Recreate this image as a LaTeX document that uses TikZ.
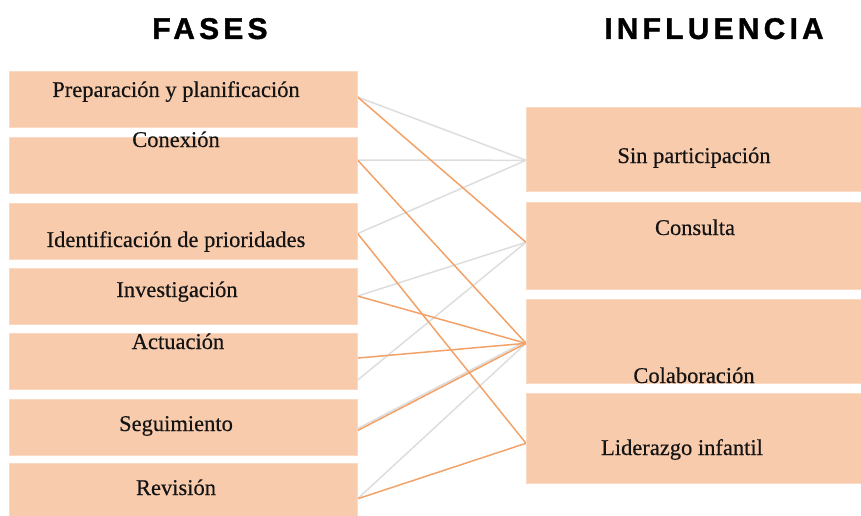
\documentclass[tikz,border=0pt]{standalone}
\usepackage{fontspec}
\setmainfont{Liberation Serif}
\newfontfamily\bodyfont[FakeBold=0.4]{Liberation Serif}
\newfontfamily\titlefont[LetterSpace=14,FakeBold=1.2]{Liberation Sans}
\usetikzlibrary{backgrounds}
\definecolor{boxfill}{HTML}{F8CBAD}
\definecolor{boxedge}{HTML}{FBD9C3}
\definecolor{lineor}{HTML}{F2A268}
\definecolor{linegr}{HTML}{DDDDDD}
\definecolor{txt}{HTML}{141414}
\begin{document}
\begin{tikzpicture}[x=1pt,y=-1pt,
  lbox/.style={fill=boxfill,draw=boxedge,line width=0.6pt,inner sep=0pt,
    minimum width=348pt,minimum height=55.5pt,anchor=north west},
  rbox/.style={fill=boxfill,draw=boxedge,line width=0.6pt,inner sep=0pt,
    minimum width=345pt,anchor=north west},
  lbl/.style={anchor=base,inner sep=0pt,text=txt,font=\bodyfont\fontsize{22.5}{27}\selectfont},
  ttl/.style={anchor=base,inner sep=0pt,text=black,font=\titlefont\bfseries\fontsize{30}{36}\selectfont},
  orl/.style={draw=lineor,line width=1.5pt},
  grl/.style={draw=linegr,line width=1.5pt}]
\useasboundingbox (0,0) rectangle (861,516);

% titles
\node[ttl] (tf) at (210,39) {FASES};
\node[ttl] (ti) at (714,39) {INFLUENCIA};

% left boxes
\node[lbox] (b1) at (9,71) {};
\node[lbox] (b2) at (9,137) {};
\node[lbox] (b3) at (9,203) {};
\node[lbox] (b4) at (9,268) {};
\node[lbox] (b5) at (9,333) {};
\node[lbox] (b6) at (9,399) {};
\node[lbox,minimum height=60pt] (b7) at (9,463) {};

% right boxes
\node[rbox,minimum height=84pt] (rA) at (526,107) {};
\node[rbox,minimum height=87pt] (rB) at (526,202) {};
\node[rbox,minimum height=84pt] (rC) at (526,299) {};
\node[rbox,minimum height=90pt] (rD) at (526,393) {};

% labels
\node[lbl] (t1) at (176,97) {Preparación y planificación};
\node[lbl] (t2) at (176,147) {Conexión};
\node[lbl] (t3) at (176,247) {Identificación de prioridades};
\node[lbl] (t4) at (177,297) {Investigación};
\node[lbl] (t5) at (178,349) {Actuación};
\node[lbl] (t6) at (176,431) {Seguimiento};
\node[lbl] (t7) at (176,495) {Revisión};
\node[lbl] (tA) at (694,163) {Sin participación};
\node[lbl] (tB) at (695,235) {Consulta};
\node[lbl] (tC) at (694,383) {Colaboración};
\node[lbl] (tD) at (682,455) {Liderazgo infantil};

% connectors
\begin{scope}[on background layer]
\draw[grl] ([yshift=2pt]b1.east) -- ([yshift=-11pt]rA.west);
\draw[grl] ([yshift=5pt]b2.east) -- ([yshift=-11pt]rA.west);
\draw[grl] ([yshift=-2.5pt]b3.east) -- ([yshift=-11pt]rA.west);
\draw[grl] ([yshift=0pt]b4.east) -- ([yshift=3.5pt]rB.west);
\draw[grl] ([yshift=-19pt]b5.east) -- ([yshift=3.5pt]rB.west);
\draw[grl] ([yshift=-1.5pt]b6.east) -- ([yshift=0pt]rC.west);
\draw[grl] ([yshift=-5.5pt]b7.east) -- ([yshift=-2pt]rC.west);

\draw[orl] ([yshift=2pt]b1.east) -- ([yshift=3.5pt]rB.west);
\draw[orl] ([yshift=5pt]b2.east) -- ([yshift=-2pt]rC.west);
\draw[orl] ([yshift=-2.5pt]b3.east) -- ([yshift=-5pt]rD.west);
\draw[orl] ([yshift=0pt]b4.east) -- ([yshift=-2pt]rC.west);
\draw[orl] ([yshift=3pt]b5.east) -- ([yshift=-2pt]rC.west);
\draw[orl] ([yshift=-3.5pt]b6.east) -- ([yshift=-2pt]rC.west);
\draw[orl] ([yshift=-5.5pt]b7.east) -- ([yshift=-5pt]rD.west);
\end{scope}
\end{tikzpicture}
\end{document}
